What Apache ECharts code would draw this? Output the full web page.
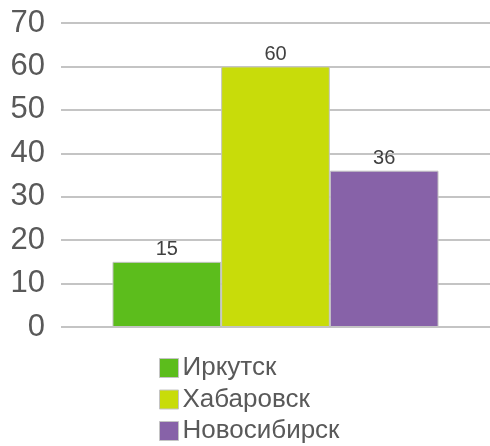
<!DOCTYPE html>
<html>
<head>
<meta charset="utf-8">
<script src="https://cdn.jsdelivr.net/npm/echarts@6/dist/echarts.min.js"></script>
<style>
  html, body { margin: 0; padding: 0; background: #fff; }
  #main { width: 490px; height: 446px; }
</style>
</head>
<body>
<div id="main"></div>
<script>
var cities = ['Иркутск', 'Хабаровск', 'Новосибирск'];
var values = [15, 60, 36];
var colors = ['#5cbd1c', '#c8dc0a', '#8762a8'];
var yTicks = [0, 10, 20, 30, 40, 50, 60, 70];

var chart = echarts.init(document.getElementById('main'));

var series = [];
for (var i = 0; i < cities.length; i++) {
    series.push({
        name: cities[i],
        type: 'bar',
        data: [values[i]],
        barGap: '0%',
        barCategoryGap: '24%',
        itemStyle: {
            color: colors[i],
            borderColor: '#c4c4c4',
            borderWidth: 1
        },
        label: {
            show: true,
            position: 'top',
            distance: 2,
            color: '#404040',
            fontSize: 20,
            fontFamily: 'Liberation Sans'
        }
    });
}

var option = {
    animation: false,
    grid: {
        left: 61,
        right: 0,
        top: 23,
        bottom: 119
    },
    legend: {
        orient: 'vertical',
        left: 159,
        top: 355,
        height: 100,
        padding: 0,
        icon: 'rect',
        itemWidth: 19,
        itemHeight: 19,
        itemGap: 5.5,
        data: cities,
        itemStyle: { borderColor: '#c4c4c4', borderWidth: 1 },
        textStyle: {
            color: '#595959',
            fontSize: 26,
            lineHeight: 26,
            fontFamily: 'Liberation Sans',
            padding: [0, 0, 0, -1]
        }
    },
    xAxis: {
        type: 'category',
        data: [''],
        axisLine: { show: false },
        axisTick: { show: false },
        axisLabel: { show: false }
    },
    yAxis: {
        type: 'value',
        min: yTicks[0],
        max: yTicks[yTicks.length - 1],
        interval: 10,
        axisLine: { show: false },
        axisTick: { show: false },
        axisLabel: {
            margin: 16,
            color: '#595959',
            fontSize: 31,
            fontFamily: 'Liberation Sans'
        },
        splitLine: {
            lineStyle: { color: '#c4c4c4', width: 2 }
        }
    },
    series: series
};

chart.setOption(option);
</script>
</body>
</html>
